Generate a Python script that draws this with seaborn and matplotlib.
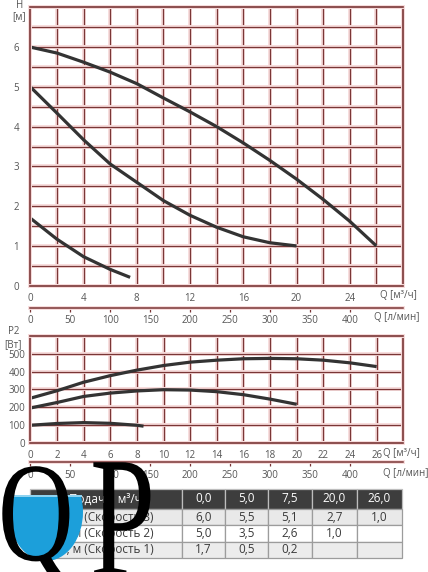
import numpy as np
import pandas as pd
import matplotlib
matplotlib.use("Agg")
import matplotlib.pyplot as plt
import seaborn as sns
from matplotlib import patheffects as pe
from matplotlib.patches import Ellipse, Rectangle
from matplotlib.transforms import Affine2D

sns.set_theme(style="white")
plt.rcParams['font.family'] = ['Open Sans', 'DejaVu Sans']

# ---------------- data ----------------
q_speed3 = [0, 2, 4, 6, 8, 10, 12, 14, 16, 18, 20, 22, 24, 26]
h_speed3 = [6.0, 5.85, 5.62, 5.37, 5.08, 4.72, 4.37, 4.0, 3.59, 3.15, 2.68, 2.17, 1.62, 1.0]
q_speed2 = [0, 2, 4, 6, 8, 10, 12, 14, 16, 18, 20]
h_speed2 = [5.0, 4.34, 3.67, 3.06, 2.6, 2.14, 1.77, 1.47, 1.23, 1.08, 1.0]
q_speed1 = [0, 2, 4, 6, 7.5]
h_speed1 = [1.7, 1.17, 0.73, 0.41, 0.21]

pq_speed3 = [0, 2, 4, 6, 8, 10, 12, 14, 16, 18, 20, 22, 24, 26]
p_speed3 = [250, 292, 340, 377, 408, 434, 453, 464, 472, 474, 472, 464, 449, 428]
pq_speed2 = [0, 2, 4, 6, 8, 10, 12, 14, 16, 18, 20]
p_speed2 = [195, 226, 260, 279, 291, 298, 296, 287, 270, 245, 216]
pq_speed1 = [0, 2, 4, 6, 8, 8.5]
p_speed1 = [98, 108, 113, 109, 98, 93]

h_xticks = [0, 4, 8, 12, 16, 20, 24]
h_yticks = [0, 1, 2, 3, 4, 5, 6]
p_xticks = [0, 2, 4, 6, 8, 10, 12, 14, 16, 18, 20, 22, 24, 26]
p_yticks = [0, 100, 200, 300, 400, 500]
lmin_ticks = [0, 50, 100, 150, 200, 250, 300, 350, 400]

table_header = ['Подача, м³/ч', '0,0', '5,0', '7,5', '20,0', '26,0']
table_rows = ['Н, м (Скорость 3)', 'Н, м (Скорость 2)', 'Н, м (Скорость 1)']
table_vals = [['6,0', '5,5', '5,1', '2,7', '1,0'],
              ['5,0', '3,5', '2,6', '1,0', ''],
              ['1,7', '0,5', '0,2', '', '']]

# ---------------- figure ----------------
W, H = 428, 572
fig = plt.figure(figsize=(W / 100, H / 100), dpi=100)
fig.patch.set_facecolor('white')

GRID = '#7a3636'
GLOW = '#f7dcdc'
CURVE = '#333333'
TXT = '#555555'
glow = [pe.Stroke(linewidth=2.8, foreground=GLOW), pe.Normal()]


def fx(px):
    return px / W


def fy(py):
    return 1 - py / H


def style_axes(ax, xlim, ylim, xmaj, xmin, ymaj, ymin, ypad, ylen):
    ax.set_facecolor('white')
    ax.set_xlim(*xlim)
    ax.set_ylim(*ylim)
    ax.set_xticks(xmaj)
    ax.set_xticks(xmin, minor=True)
    ax.set_yticks(ymaj)
    ax.set_yticks(ymin, minor=True)
    ax.set_axisbelow(True)
    ax.grid(True, which='both', color=GRID, linewidth=0.9, path_effects=glow)
    for s in ax.spines.values():
        s.set_color(GRID)
        s.set_linewidth(1.2)
        s.set_path_effects(glow)
    ax.tick_params(axis='x', which='both', direction='out', length=3, width=0.9,
                   color=GRID, labelsize=7, labelcolor=TXT, pad=2.5)
    ax.tick_params(axis='y', which='both', direction='out', length=ylen, width=0.9,
                   color=GRID, labelsize=7, labelcolor=TXT, pad=ypad)
    ax.set_xlabel('')
    ax.set_ylabel('')


def to_lmin(q):
    return np.asarray(q) * 1000.0 / 60.0


def to_m3h(l):
    return np.asarray(l) * 60.0 / 1000.0


def add_lmin_axis(ax, loc):
    sec = ax.secondary_xaxis(loc, functions=(to_lmin, to_m3h))
    sec.set_xticks(lmin_ticks)
    sec.spines['bottom'].set_color(GRID)
    sec.spines['bottom'].set_linewidth(1.1)
    sec.spines['bottom'].set_path_effects(glow)
    sec.tick_params(axis='x', direction='out', length=3, width=0.9, color=GRID,
                    labelsize=7, labelcolor=TXT, pad=2.5)
    return sec


# ---- H(Q) chart ----
ax1 = fig.add_axes([fx(30.3), fy(285.7), fx(403 - 30.3), (285.7 - 7.3) / H])
dfh = pd.concat([
    pd.DataFrame({'Q': q_speed3, 'H': h_speed3, 'speed': '3'}),
    pd.DataFrame({'Q': q_speed2, 'H': h_speed2, 'speed': '2'}),
    pd.DataFrame({'Q': q_speed1, 'H': h_speed1, 'speed': '1'}),
])
sns.lineplot(data=dfh, x='Q', y='H', units='speed', estimator=None, color=CURVE,
             linewidth=2.3, legend=False, ax=ax1, solid_capstyle='butt',
             solid_joinstyle='round')
style_axes(ax1, (0, 28), (0, 7), h_xticks, np.arange(0, 28.1, 2), h_yticks,
           np.arange(0, 7.01, 0.5), ypad=6, ylen=2)
add_lmin_axis(ax1, -(307.7 - 285.7) / (285.7 - 7.3))

fig.text(fx(20), fy(6), 'H', ha='center', va='center', fontsize=7, color=TXT)
fig.text(fx(19), fy(16.5), '[м]', ha='center', va='center', fontsize=7, color=TXT)
fig.text(fx(380), fy(296), 'Q [м³/ч]', ha='left', va='center', fontsize=7, color=TXT)
fig.text(fx(374), fy(317.5), 'Q [л/мин]', ha='left', va='center', fontsize=7, color=TXT)

# ---- P2(Q) chart ----
ax2 = fig.add_axes([fx(30.3), fy(442.7), fx(403.3 - 30.3), (442.7 - 336) / H])
dfp = pd.concat([
    pd.DataFrame({'Q': pq_speed3, 'P': p_speed3, 'speed': '3'}),
    pd.DataFrame({'Q': pq_speed2, 'P': p_speed2, 'speed': '2'}),
    pd.DataFrame({'Q': pq_speed1, 'P': p_speed1, 'speed': '1'}),
])
sns.lineplot(data=dfp, x='Q', y='P', units='speed', estimator=None, color=CURVE,
             linewidth=2.3, legend=False, ax=ax2, solid_capstyle='butt',
             solid_joinstyle='round')
style_axes(ax2, (0, 28), (0, 600), p_xticks, np.arange(0, 28.1, 2), p_yticks,
           np.arange(0, 601, 100), ypad=1.5, ylen=2)
add_lmin_axis(ax2, -(462.3 - 442.7) / (442.7 - 336))

fig.text(fx(14), fy(332), 'P2', ha='center', va='center', fontsize=7, color=TXT)
fig.text(fx(13.5), fy(344.5), '[Вт]', ha='center', va='center', fontsize=7, color=TXT)
fig.text(fx(383), fy(453.3), 'Q [м³/ч]', ha='left', va='center', fontsize=7, color=TXT)
fig.text(fx(383), fy(473.3), 'Q [л/мин]', ha='left', va='center', fontsize=7, color=TXT)

# ---- table ----
axt = fig.add_axes([fx(30), fy(558), fx(401.7 - 30), (558 - 489) / H])
axt.axis('off')
cell_text = [table_header] + [[r] + v for r, v in zip(table_rows, table_vals)]
tbl = axt.table(cellText=cell_text, bbox=[0, 0, 1, 1], cellLoc='center')
tbl.auto_set_font_size(False)
col_w = [151.7, 43.3, 43.3, 43.4, 45.0, 45.0]
row_h = [20.0, 16.3, 16.3, 16.4]
row_bg = ['#3d3d3d', '#e9e9e9', '#ffffff', '#ececec']
for (r, c), cell in tbl.get_celld().items():
    cell.set_width(col_w[c])
    cell.set_height(row_h[r])
    cell.set_facecolor(row_bg[r])
    cell.set_linewidth(0.9)
    if r == 0:
        cell.set_edgecolor('#bdbdbd')
        cell.get_text().set_color('white')
    else:
        cell.set_edgecolor('#9c9c9c')
        cell.get_text().set_color('#3a3a3a')
    cell.get_text().set_fontsize(8.5)

# ---- QP watermark logo ----


class HScale(pe.AbstractPathEffect):
    def __init__(self, sx, x0):
        super().__init__()
        self.sx = sx
        self.x0 = x0

    def draw_path(self, renderer, gc, tpath, affine, rgbFace=None):
        aff = affine + Affine2D().translate(-self.x0, 0).scale(self.sx, 1).translate(self.x0, 0)
        renderer.draw_path(gc, tpath, aff, rgbFace)


water = Ellipse((fx(46), fy(512)), 74 / W, 98 / H, transform=fig.transFigure,
                facecolor='#1c9fda', edgecolor='none', zorder=2)
clip = Rectangle((0, fy(572)), 1, (572 - 495) / H, transform=fig.transFigure)
water.set_clip_path(clip)
fig.add_artist(water)
fig.add_artist(Rectangle((fx(10), fy(497)), 72 / W, 2 / H, transform=fig.transFigure,
                         facecolor='#8fd3f0', edgecolor='none', zorder=2.1))

fig.text(fx(-2), fy(560), 'Q', ha='left', va='baseline', fontsize=102,
         family=['Liberation Serif', 'DejaVu Serif'], color='black', zorder=3,
         path_effects=[HScale(0.74, -2)])
fig.text(fx(90), fy(575), 'P', ha='left', va='baseline', fontsize=124,
         family=['Liberation Serif', 'DejaVu Serif'], color='black', zorder=3,
         path_effects=[HScale(0.68, 90)])

fig.savefig('out.png', dpi=100, facecolor='white')
